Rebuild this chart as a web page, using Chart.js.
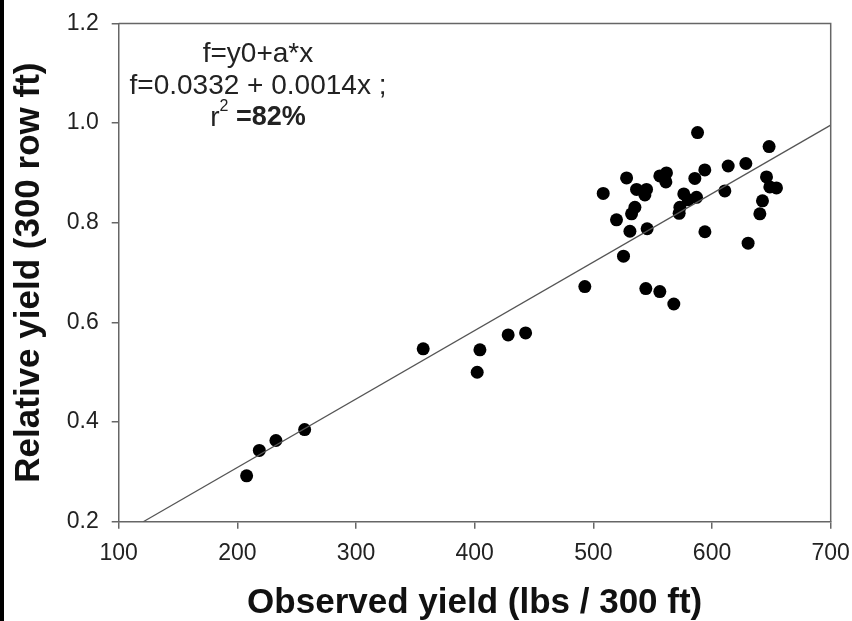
<!DOCTYPE html>
<html>
<head>
<meta charset="utf-8">
<script src="https://cdn.jsdelivr.net/npm/chart.js@4.4.1/dist/chart.umd.min.js"></script>
<style>
  html, body { margin: 0; padding: 0; background: #fff; }
  #wrap { width: 852px; height: 621px; position: relative; }
</style>
</head>
<body>
<div id="wrap"><canvas id="yieldChart" width="852" height="621"></canvas></div>
<script>
// observed yield (lbs / 300 ft) and relative yield
const observed = [
  207.8, 218.5, 232.5, 256.7, 356.6, 402.1, 404.4, 428.2, 442.9, 492.8,
  508.3, 519.5, 525.4, 528.0, 530.8, 532.2, 535.0, 536.4, 543.4, 544.8,
  544.2, 545.3, 556.0, 556.0, 561.6, 561.1, 567.8, 572.3, 572.9, 576.2,
  579.9, 585.5, 586.9, 587.8, 593.9, 594.0, 610.8, 613.6, 628.5, 630.4,
  640.3, 642.5, 645.9, 648.1, 648.7, 654.3
];
const relative = [
  0.292, 0.343, 0.363, 0.385, 0.547, 0.500, 0.545, 0.575, 0.579, 0.672,
  0.859, 0.806, 0.733, 0.890, 0.783, 0.818, 0.831, 0.867, 0.856, 0.867,
  0.668, 0.788, 0.894, 0.662, 0.900, 0.882, 0.637, 0.819, 0.831, 0.858,
  0.846, 0.889, 0.851, 0.981, 0.906, 0.782, 0.864, 0.914, 0.919, 0.759,
  0.818, 0.844, 0.892, 0.953, 0.872, 0.870
];

// regression line ends as drawn
const fitX = [120.7, 700];
const fitY = [0.2, 0.996];

const xTicks = [100, 200, 300, 400, 500, 600, 700];
const yTicks = [0.2, 0.4, 0.6, 0.8, 1.0, 1.2];

const eqLines = ["f=y0+a*x", "f=0.0332 + 0.0014x ;"];
const r2Text = "=82%";

const FONT = "'Liberation Sans', Arial, Helvetica, sans-serif";

// frame on top/right, black strip on the left edge, equation text
const extras = {
  id: "extras",
  afterDraw(c) {
    const ctx = c.ctx;
    const a = c.chartArea;
    ctx.save();
    ctx.fillStyle = "#000";
    ctx.fillRect(0, 0, 4, c.height);

    ctx.strokeStyle = "#666";
    ctx.lineWidth = 1.5;
    ctx.beginPath();
    ctx.moveTo(a.left, a.top);
    ctx.lineTo(a.right, a.top);
    ctx.lineTo(a.right, a.bottom);
    ctx.stroke();

    ctx.fillStyle = "#222";
    ctx.textAlign = "center";
    ctx.textBaseline = "middle";
    ctx.font = "28px " + FONT;
    const cx = 258;
    ctx.fillText(eqLines[0], cx, 54);
    ctx.fillText(eqLines[1], cx, 86);

    // r² =82%
    const rFont = "28px " + FONT;
    const supFont = "16px " + FONT;
    const bFont = "bold 27px " + FONT;
    ctx.font = rFont; const wr = ctx.measureText("r").width;
    ctx.font = supFont; const w2 = ctx.measureText("2").width;
    ctx.font = bFont; const wb = ctx.measureText(" " + r2Text).width;
    let x = cx - (wr + w2 + wb) / 2;
    ctx.textAlign = "left";
    ctx.font = rFont; ctx.fillText("r", x, 118); x += wr;
    ctx.font = supFont; ctx.fillText("2", x, 107); x += w2;
    ctx.font = bFont; ctx.fillText(" " + r2Text, x, 118);
    ctx.restore();
  }
};

const ctx = document.getElementById("yieldChart").getContext("2d");
new Chart(ctx, {
  type: "scatter",
  data: {
    datasets: [
      {
        label: "fit",
        type: "line",
        data: fitX.map((x, i) => ({ x: x, y: fitY[i] })),
        borderColor: "#555",
        borderWidth: 1.3,
        pointRadius: 0,
        fill: false
      },
      {
        label: "obs",
        data: observed.map((x, i) => ({ x: x, y: relative[i] })),
        backgroundColor: "#000",
        borderColor: "#000",
        pointRadius: 6.5,
        borderWidth: 0
      }
    ]
  },
  plugins: [extras],
  options: {
    responsive: false,
    animation: false,
    events: [],
    layout: { padding: { top: 23.5, right: 21.3, left: 0, bottom: 0 } },
    plugins: { legend: { display: false }, tooltip: { enabled: false } },
    scales: {
      x: {
        type: "linear",
        min: xTicks[0],
        max: xTicks[xTicks.length - 1],
        afterBuildTicks: s => { s.ticks = xTicks.map(v => ({ value: v })); },
        afterFit: s => { s.height = 99.3; s.paddingLeft = 0; s.paddingRight = 0; },
        ticks: { font: { size: 23, family: FONT }, color: "#222", padding: 11 },
        grid: { display: true, drawOnChartArea: false, drawTicks: true, tickLength: 7, color: "#666", lineWidth: 1.5 },
        border: { display: true, color: "#666", width: 1.5 },
        title: {
          display: true,
          text: "Observed yield (lbs / 300 ft)",
          font: { size: 35, weight: "bold", family: FONT, lineHeight: 1 },
          color: "#111",
          padding: { top: 0, bottom: 0 }
        }
      },
      y: {
        type: "linear",
        min: yTicks[0],
        max: yTicks[yTicks.length - 1],
        afterBuildTicks: s => { s.ticks = yTicks.map(v => ({ value: v })); },
        afterFit: s => { s.width = 118.7; s.paddingTop = 0; s.paddingBottom = 0; },
        ticks: { font: { size: 23, family: FONT }, color: "#222", padding: 13, callback: v => v.toFixed(1) },
        grid: { display: true, drawOnChartArea: false, drawTicks: true, tickLength: 7, color: "#666", lineWidth: 1.5 },
        border: { display: true, color: "#666", width: 1.5 },
        title: {
          display: true,
          text: "Relative yield (300 row ft)",
          font: { size: 35, weight: "bold", family: FONT, lineHeight: 1 },
          color: "#111",
          padding: { top: 12, bottom: 0 }
        }
      }
    }
  }
});
</script>
</body>
</html>
